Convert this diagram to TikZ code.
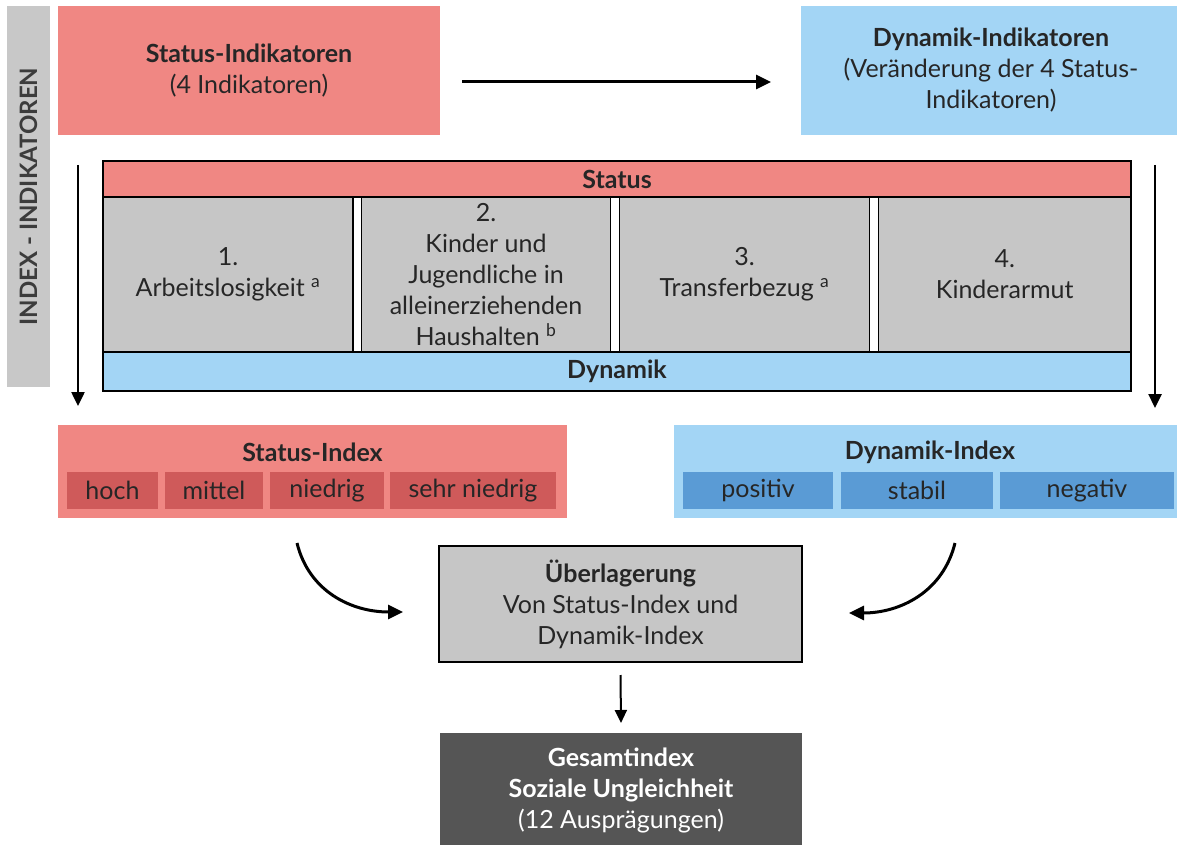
\documentclass[tikz,border=0pt]{standalone}
\usepackage{fontspec}
\setmainfont{Lato}
\usetikzlibrary{arrows.meta}
\definecolor{salmon}{HTML}{F08783}
\definecolor{lblue}{HTML}{A3D5F5}
\definecolor{cellgray}{HTML}{C6C6C6}
\definecolor{bargray}{HTML}{C8C8C8}
\definecolor{subred}{HTML}{CF5A5A}
\definecolor{subblue}{HTML}{5A9BD5}
\definecolor{darkbox}{HTML}{555555}
\definecolor{txt}{HTML}{262626}
\begin{document}
\begin{tikzpicture}[x=1pt,y=-1pt,
  rbox/.style={anchor=north west, inner sep=0pt, outer sep=0pt, align=center, text=txt,
    font=\fontsize{25}{31}\selectfont},
  cellbox/.style={rbox, fill=cellgray, draw=black, line width=1.6pt, minimum height=155pt},
  barbox/.style={rbox, draw=black, line width=1.6pt, minimum width=1028pt},
  subbox/.style={rbox, minimum height=37pt},
  ttl/.style={inner sep=0pt, text=txt, font=\bfseries\fontsize{25}{31}\selectfont},
  arr/.style={-{Triangle[length=15pt,width=14pt]}, line width=3pt},
  varr/.style={-{Triangle[length=14pt,width=13pt]}, line width=2.5pt},
  sarr/.style={-{Triangle[length=13pt,width=12pt]}, line width=2pt}
]
\useasboundingbox (0,0) rectangle (1177,845);
\fill[white] (0,0) rectangle (1177,845);

% side bar
\node[rbox, fill=bargray, minimum width=43pt, minimum height=381pt] (bar) at (7,6) {};
\node[rotate=90, inner sep=0pt, text=txt!90!white, font=\bfseries\fontsize{24}{28}\selectfont] (barlab) at (bar.center) {INDEX - INDIKATOREN};

% top boxes
\node[rbox, fill=salmon, minimum width=382pt, minimum height=129pt] (sind) at (58,6)
  {\textbf{Status-Indikatoren}\\(4 Indikatoren)};
\node[rbox, fill=lblue, minimum width=380pt, minimum height=129pt] (dind) at (801,6)
  {\textbf{Dynamik-Indikatoren}\\(Veränderung der 4 Status-\\Indikatoren)};
\draw[arr] ([xshift=22pt,yshift=-11.5pt]sind.east) -- ([xshift=-30pt,yshift=-11.5pt]dind.west);

% central frame
\node[cellbox, minimum width=250pt] (c1) at (103,197) {1.\\Arbeitslosigkeit \textsuperscript{a}};
\node[cellbox, minimum width=249pt] (c2) at (361.5,197) {2.\\Kinder und\\Jugendliche in\\alleinerziehenden\\Haushalten \textsuperscript{b}};
\node[cellbox, minimum width=250pt] (c3) at (619.5,197) {3.\\Transferbezug \textsuperscript{a}};
\node[cellbox, minimum width=252.5pt] (c4) at (878.5,197) {4.\\Kinderarmut};
\node[barbox, fill=salmon, minimum height=36pt] (sbar) at (103,161) {\textbf{Status}};
\node[barbox, fill=lblue, minimum height=39pt] (dbar) at (103,352) {\textbf{Dynamik}};

% vertical arrows
\coordinate (lv1) at (78,165);
\coordinate (lv2) at (78,406);
\coordinate (rv1) at (1155,165);
\coordinate (rv2) at (1155,408);
\draw[varr] (lv1) -- (lv2);
\draw[varr] (rv1) -- (rv2);

% Status-Index
\node[rbox, fill=salmon, minimum width=509pt, minimum height=93pt] (sidx) at (58,425) {};
\node[ttl] (sidxt) at (312.5,452) {Status-Index};
\node[subbox, fill=subred, minimum width=91pt] (s1) at (67,472) {hoch};
\node[subbox, fill=subred, minimum width=98pt] (s2) at (165,472) {mittel};
\node[subbox, fill=subred, minimum width=114pt] (s3) at (270,472) {niedrig};
\node[subbox, fill=subred, minimum width=166pt] (s4) at (390,472) {sehr niedrig};

% Dynamik-Index
\node[rbox, fill=lblue, minimum width=512pt, minimum height=93pt] (didx) at (674,425) {};
\node[ttl] (didxt) at (930,452) {Dynamik-Index};
\node[subbox, fill=subblue, minimum width=150pt] (d1) at (683,472) {positiv};
\node[subbox, fill=subblue, minimum width=152pt] (d2) at (841,472) {stabil};
\node[subbox, fill=subblue, minimum width=174pt] (d3) at (1000,472) {negativ};

% Ueberlagerung
\node[rbox, fill=cellgray, draw=black, line width=1.8pt, minimum width=363pt, minimum height=116pt] (ueb) at (439,546)
  {\textbf{Überlagerung}\\Von Status-Index und\\Dynamik-Index};

% curved arrows
\coordinate (cl1) at (297,543);
\coordinate (cl2) at (403,612);
\coordinate (cr1) at (955,543);
\coordinate (cr2) at (849,613);
\draw[arr] (cl1) .. controls (309,592) and (352,612) .. (cl2);
\draw[arr] (cr1) .. controls (943,592) and (900,613) .. (cr2);

% Gesamtindex
\node[rbox, fill=darkbox, text=white, minimum width=362pt, minimum height=114pt] (ges) at (440,733)
  {\textbf{Gesamtindex}\\\textbf{Soziale Ungleichheit}\\(12 Ausprägungen)};
\draw[sarr] ([yshift=-13pt]ueb.south) -- ([yshift=10pt]ges.north);
\end{tikzpicture}
\end{document}
